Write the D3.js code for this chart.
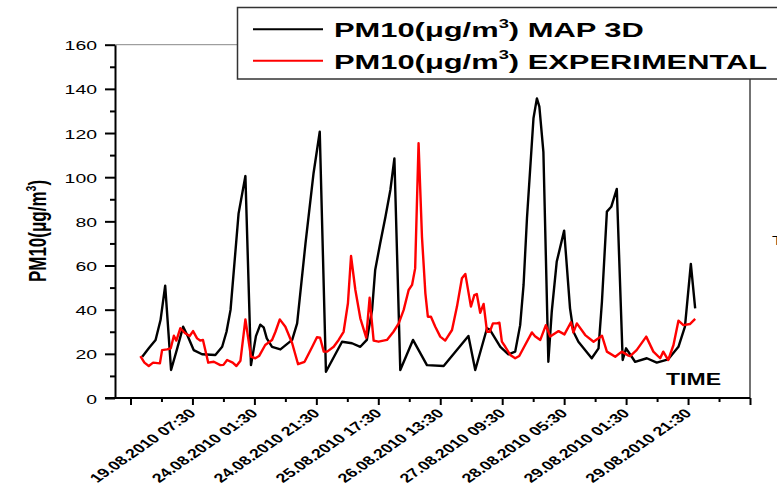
<!DOCTYPE html>
<html>
<head>
<meta charset="utf-8">
<script src="https://cdn.jsdelivr.net/npm/d3@7"></script>
<style>
  body { margin: 0; background: #fff; }
  text { font-family: "Liberation Sans", Arial, sans-serif; }
</style>
</head>
<body>
<svg id="chart" width="777" height="487"></svg>
<script>
// sample index (hourly rows) and PM10 values
var mapT  = [3.8, 5.9, 8.1, 9.7, 11.2, 13.1, 15, 17, 18.5, 20.4, 23.1, 27.4, 29.6, 31, 32.3, 34.9, 37.1, 38.9, 40.5, 41.9,
             43, 44, 45.7, 48.4, 52.2, 53.8, 56.5, 59.1, 61.1, 63.1, 68.3, 71.5, 74.2, 76.3, 78, 79, 80.6, 82.3, 83.9, 85.2,
             87.1, 91.2, 95.7, 101.1, 109.1, 111.3, 115.1, 116, 119.4, 122, 124.2, 125.8, 126.9, 128, 130.1, 131.2, 132, 133.3, 134.9, 136,
             137.6, 140, 141.9, 143, 144.6, 148.9, 151.1, 152.2, 153.8, 155.2, 157, 158.9, 160, 162.9, 166.7, 169.9, 173.6, 176.9, 179, 180.9, 182.3];
var mapPM = [18.7, 22.5, 26.3, 35.3, 50.9, 12.7, 22, 32.3, 28, 21.7, 19.8, 19.5, 23.2, 30, 39.9, 83.6, 100.5, 14.9, 28, 33.2,
             32, 27, 23.2, 22, 26.3, 33.8, 70, 101.8, 120.6, 11.9, 25.5, 24.8, 23.2, 26.3, 39.9, 58, 70, 82, 94.2, 108.5,
             12.7, 26.3, 14.9, 14.5, 28.1, 12.7, 31.6, 31, 23.2, 19.8, 21, 33, 51.2, 81.4, 126.7, 135.7, 132, 111.5, 16.4, 39.1,
             61.7, 75.8, 40.6, 30, 25.5, 18, 22.5, 43.6, 84.4, 86.6, 94.7, 17.2, 22.5, 16.4, 18, 16, 17.5, 23.2, 32.3, 60.7, 40.6];

var expT  = [3.2, 4.5, 5.9, 7.3, 9.5, 10.2, 11.8, 13, 14, 14.8, 16.1, 17.7, 19.1, 20.2, 21.5, 22.5, 23.4, 25.1, 26.9, 29,
             30, 31.2, 33, 34.2, 35.5, 37.1, 38.9, 40.3, 41.5, 43.5, 45.7, 46.8, 48.2, 50, 52.2, 54.1, 56.2, 58.6, 60.2, 61.2,
             62.4, 63.5, 65.6, 67.2, 68.8, 70.2, 71.2, 72.6, 74.2, 76.1, 77.2, 78.5, 80.1, 82.8, 84.9, 86.6, 88.2, 89.8, 90.9, 91.9,
             93, 94.1, 95.2, 96, 97, 98.4, 100, 101.6, 103.8, 105.4, 107, 108.1, 109.9, 111, 111.8, 112.9, 114, 115.1, 116, 117,
             118.3, 119.1, 119.9, 121, 122.6, 124.2, 125.5, 127.4, 129.6, 130.6, 132.3, 134.1, 135.5, 138.2, 140.1, 142.2, 143, 144.1, 146.8, 149.5,
             152.2, 153.8, 156.5, 158.6, 160.8, 161.3, 163.4, 166.5, 168.8, 171, 172, 173.6, 175.3, 176.9, 178.5, 180.6, 182.3];
var expPM = [19, 16, 14.5, 16, 15.7, 21.7, 22, 22.5, 28.2, 26, 31.6, 29.3, 28.1, 30.3, 27, 26, 26.3, 16, 16.4, 14.9,
             15, 17.2, 16, 14.5, 16.9, 35.6, 18.7, 18, 19, 24, 26.3, 30, 35.6, 32.3, 24.8, 15.3, 16.4, 23, 27.5, 27.3,
             21, 21, 23.2, 26.3, 30, 42.9, 64.3, 48.9, 36.1, 27.3, 45.4, 26, 25.5, 26.3, 30, 33.8, 39.9, 48.9, 51.2, 58.7,
             115.4, 73, 47.4, 36.8, 36.8, 32.3, 27.8, 26, 30.8, 41.4, 54.2, 56.2, 41.4, 46.6, 47.1, 38.6, 42.6, 30, 30, 33.8,
             33.8, 34.1, 25.5, 23.2, 19.5, 18, 19, 24, 29.7, 28, 26.3, 33, 27.8, 30.3, 28.8, 34.3, 29.7, 33.8, 28.5, 25.5,
             28.2, 21, 18.7, 21, 19.2, 19, 21.7, 27.8, 21, 18, 21, 17.2, 24, 35, 33, 33.5, 35.8];

var timeTicks  = [20, 40, 60, 80, 100, 120, 140, 160, 180];
var timeLabels = ["19.08.2010 07:30", "24.08.2010 01:30", "24.08.2010 21:30", "25.08.2010 17:30", "26.08.2010 13:30",
                  "27.08.2010 09:30", "28.08.2010 05:30", "29.08.2010 01:30", "29.08.2010 21:30"];
var seriesNames = ["MAP 3D", "EXPERIMENTAL"];

var SX = 1.44; // the picture is stretched sideways, text too

var svg = d3.select("#chart");
var x = d3.scaleLinear().domain([-5, 200]).range([115, 750]);
var y = d3.scaleLinear().domain([0, 160]).range([398, 44.7]);

// frame bits
svg.append("line").attr("x1", 115).attr("x2", 238).attr("y1", 44.7).attr("y2", 44.7)
    .attr("stroke", "#888").attr("stroke-width", 1);
svg.append("line").attr("x1", 750).attr("x2", 750).attr("y1", 79).attr("y2", 398)
    .attr("stroke", "#444").attr("stroke-width", 1.5);

// y axis, minor then major
svg.append("g").attr("transform", "translate(115,0)")
    .call(d3.axisLeft(y).tickValues(d3.range(10, 160, 20)).tickSize(5).tickFormat(""))
    .call(function(g){ g.select(".domain").remove(); });
var yAxis = svg.append("g").attr("transform", "translate(115,0)")
    .call(d3.axisLeft(y).tickValues(d3.range(0, 161, 20)).tickSize(10).tickSizeOuter(0));
yAxis.selectAll("line, path").attr("stroke", "#000").attr("stroke-width", 2);
yAxis.selectAll("text")
    .attr("x", 0).attr("dy", null)
    .attr("transform", "translate(-18,5) scale(" + SX + ",1)")
    .attr("font-size", 13.5).attr("fill", "#000");

// x axis
svg.append("g").attr("transform", "translate(0,398)")
    .call(d3.axisBottom(x).tickValues(d3.range(10, 200, 20)).tickSize(4).tickFormat(""))
    .call(function(g){ g.select(".domain").remove(); });
var xAxis = svg.append("g").attr("transform", "translate(0,398)")
    .call(d3.axisBottom(x).tickValues(d3.range(0, 201, 20)).tickSize(7).tickSizeOuter(0)
        .tickFormat(function(d){ var k = timeTicks.indexOf(d); return k < 0 ? "" : timeLabels[k]; }));
xAxis.select(".domain").attr("d", "M105,0H750");
xAxis.selectAll("line, path").attr("stroke", "#000").attr("stroke-width", 2);
svg.selectAll(".tick line").attr("stroke", "#000").attr("stroke-width", 2);
xAxis.selectAll("text")
    .attr("y", 0).attr("dy", null)
    .attr("text-anchor", "end")
    .attr("transform", "translate(4,16) scale(" + SX + ",1) rotate(-45)")
    .attr("font-size", 12.5).attr("font-weight", "bold").attr("fill", "#000");

// lines
var lineMap = d3.line().x(function(d, i){ return x(mapT[i]); }).y(function(d){ return y(d); });
var lineExp = d3.line().x(function(d, i){ return x(expT[i]); }).y(function(d){ return y(d); });

svg.append("path").datum(mapPM).attr("d", lineMap)
    .attr("fill", "none").attr("stroke", "#000").attr("stroke-width", 2.4).attr("stroke-linejoin", "round");
svg.append("path").datum(expPM).attr("d", lineExp)
    .attr("fill", "none").attr("stroke", "#ff0000").attr("stroke-width", 2.4).attr("stroke-linejoin", "round");

// y title
var yt = svg.append("text")
    .attr("transform", "translate(46,231) scale(" + SX + ",1) rotate(-90)")
    .attr("text-anchor", "middle").attr("font-size", 17).attr("font-weight", "bold");
yt.append("tspan").text("PM10(\u03bcg/m");
yt.append("tspan").attr("dy", -7).attr("font-size", 10.5).text("3");
yt.append("tspan").attr("dy", 7).text(")");

// TIME
svg.append("text").attr("transform", "translate(666,385) scale(" + SX + ",1)")
    .attr("font-size", 16).attr("font-weight", "bold").text("TIME");

// clipped letter at the right border
svg.append("text").attr("transform", "translate(772,245) scale(" + SX + ",1)")
    .attr("font-size", 12).text("T");

// legend
svg.append("rect").attr("x", 237.5).attr("y", 7.5).attr("width", 560).attr("height", 71.5)
    .attr("fill", "#fff").attr("stroke", "#333").attr("stroke-width", 1.5);
var legColors = ["#000", "#ff0000"];
seriesNames.forEach(function(name, i){
    var ly = 29.3 + i * 31.4;
    svg.append("line").attr("x1", 253).attr("x2", 323).attr("y1", ly).attr("y2", ly)
        .attr("stroke", legColors[i]).attr("stroke-width", 2);
    var t = svg.append("text").attr("transform", "translate(334," + (ly + 8) + ") scale(1.47,1)")
        .attr("font-size", 21).attr("font-weight", "bold");
    t.append("tspan").text("PM10(\u03bcg/m");
    t.append("tspan").attr("dy", -9.5).attr("font-size", 12.5).text("3");
    t.append("tspan").attr("dy", 9.5).text(") " + name);
});
</script>
</body>
</html>
